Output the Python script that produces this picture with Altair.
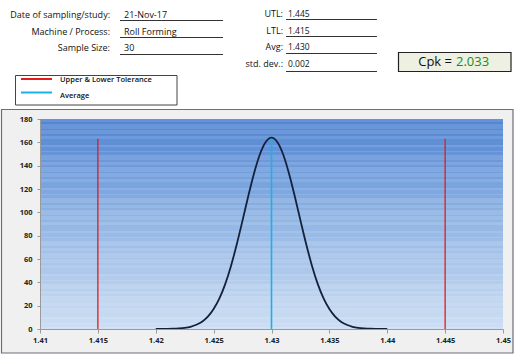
import altair as alt
import pandas as pd

# ---------------- data ----------------
curve_x = [1.4200, 1.4205, 1.4210, 1.4215, 1.4220, 1.4225, 1.4230, 1.4235, 1.4240, 1.4245,
           1.4250, 1.4255, 1.4260, 1.4265, 1.4270, 1.4275, 1.4280, 1.4285, 1.4290, 1.4295,
           1.4300, 1.4305, 1.4310, 1.4315, 1.4320, 1.4325, 1.4330, 1.4335, 1.4340, 1.4345,
           1.4350, 1.4355, 1.4360, 1.4365, 1.4370, 1.4375, 1.4380, 1.4385, 1.4390, 1.4395,
           1.4400]
curve_y = [0.0, 0.1, 0.1, 0.2, 0.5, 1.0, 1.9, 3.6, 6.3, 10.6,
           17.1, 26.2, 38.5, 54.1, 72.6, 93.1, 114.2, 133.8, 149.8, 160.3,
           164.0, 160.3, 149.8, 133.8, 114.2, 93.1, 72.6, 54.1, 38.5, 26.2,
           17.1, 10.6, 6.3, 3.6, 1.9, 1.0, 0.5, 0.2, 0.1, 0.1,
           0.0]
tolerances = [1.415, 1.445]
tolerance_top = [163, 163]
average = [1.430]
average_top = [163]
x_ticks = [1.41, 1.415, 1.42, 1.425, 1.43, 1.435, 1.44, 1.445, 1.45]
y_ticks = [0, 20, 40, 60, 80, 100, 120, 140, 160, 180]

left_labels = ["Date of sampling/study:", "Machine / Process:", "Sample Size:"]
left_values = ["21-Nov-17", "Roll Forming", "30"]
right_labels = ["UTL:", "LTL:", "Avg:", "std. dev.:"]
right_values = ["1.445", "1.415", "1.430", "0.002"]
legend_items = ["Upper & Lower Tolerance", "Average"]
cpk_label = ["Cpk ="]
cpk_value = ["2.033"]

# ---------------- layout / style ----------------
PL, PT, W, H = 40, 119, 463, 210
FONT = "Open Sans"
RED = "#e31b1b"
BLUE = "#19b2e8"


def px(x):
    return x - PL


def py(y):
    return y - PT


one = pd.DataFrame({"k": [0]})

layers = []

# chart frame
layers.append(
    alt.Chart(one).mark_rect(fill="#f0f0f0", stroke="#6b6f78", strokeWidth=1.2).encode(
        x=alt.value(px(1.5)), x2=alt.value(px(513)), y=alt.value(py(109.5)), y2=alt.value(py(353))
    )
)

# plot background: vertical gradient with faint horizontal banding
top_rgb = (84, 135, 212)
mid_rgb = (150, 185, 230)
bot_rgb = (207, 223, 244)


def mix(a, b, t):
    return tuple(int(round(a[i] + (b[i] - a[i]) * t)) for i in range(3))


def col_at(t):
    if t < 0.5:
        return mix(top_rgb, mid_rgb, t / 0.5)
    return mix(mid_rgb, bot_rgb, (t - 0.5) / 0.5)


band_pattern = [3, 2, 5, 1, 4, 2, 3, 6, 2, 4, 1, 3, 5, 2]
stops = []
pos = 0.0
k = 0
while pos < H:
    w = band_pattern[k % len(band_pattern)]
    t0 = pos / H
    t1 = min(pos + w, H) / H
    base = col_at((t0 + t1) / 2)
    light = 0.10 if k % 2 == 0 else -0.02
    c = tuple(max(0, min(255, int(v + (255 - v) * light))) for v in base)
    hexc = "#%02x%02x%02x" % c
    stops.append(alt.GradientStop(offset=t0, color=hexc))
    stops.append(alt.GradientStop(offset=t1, color=hexc))
    pos += w
    k += 1

grad = alt.LinearGradient(gradient="linear", x1=0, x2=0, y1=0, y2=1, stops=stops)
layers.append(
    alt.Chart(one).mark_rect(color=grad).encode(
        x=alt.value(0), x2=alt.value(W), y=alt.value(0), y2=alt.value(H)
    )
)

xscale = alt.Scale(domain=[1.41, 1.45], nice=False, zero=False)
yscale = alt.Scale(domain=[0, 180], nice=False)

xaxis = alt.Axis(values=x_ticks, format=".3~f", title=None, grid=False, labelFont=FONT,
                 labelFontSize=7.5, labelFontWeight="bold", labelColor="#222", domainColor="#9a9a9a",
                 tickColor="#9a9a9a", tickSize=4, labelPadding=3, zindex=1, labelFlush=False,
                 labelOverlap=False)
yaxis = alt.Axis(values=y_ticks, title=None, grid=False, labelFont=FONT,
                 labelFontSize=7.5, labelFontWeight="bold", labelColor="#222", domainColor="#9a9a9a",
                 tickColor="#9a9a9a", tickSize=3, labelPadding=5, zindex=1, labelOverlap=False,
                 labelFlush=False)

tol_df = pd.DataFrame({"x": tolerances, "bottom": [0] * len(tolerances), "top": tolerance_top})
avg_df = pd.DataFrame({"x": average, "bottom": [0] * len(average), "top": average_top})
curve_df = pd.DataFrame({"x": curve_x, "y": curve_y})

layers.append(
    alt.Chart(curve_df).mark_line(color="#14213d", strokeWidth=1.8, interpolate="monotone").encode(
        x=alt.X("x:Q", scale=xscale, axis=xaxis),
        y=alt.Y("y:Q", scale=yscale, axis=yaxis),
    )
)
layers.append(
    alt.Chart(tol_df).mark_rule(color=RED, strokeWidth=1.3).encode(
        x=alt.X("x:Q", scale=xscale, axis=xaxis),
        y=alt.Y("bottom:Q", scale=yscale, axis=yaxis), y2="top:Q"
    )
)
layers.append(
    alt.Chart(avg_df).mark_rule(color=BLUE, strokeWidth=1.6).encode(
        x=alt.X("x:Q", scale=xscale, axis=xaxis),
        y=alt.Y("bottom:Q", scale=yscale, axis=yaxis), y2="top:Q"
    )
)


def text_layer(t, x, y, align="left", size=9, color="#111", weight="normal"):
    return alt.Chart(pd.DataFrame({"t": [t]})).mark_text(
        align=align, baseline="middle", font=FONT, fontSize=size, color=color, fontWeight=weight
    ).encode(text="t:N", x=alt.value(px(x)), y=alt.value(py(y)))


def hline(x1, x2, y, color="#333", w=1):
    return alt.Chart(one).mark_rule(color=color, strokeWidth=w).encode(
        x=alt.value(px(x1)), x2=alt.value(px(x2)), y=alt.value(py(y))
    )


# left form
left_y = [15, 32, 48]
left_line_y = [20.5, 37.5, 54.5]
for lab, val, yy, ly in zip(left_labels, left_values, left_y, left_line_y):
    layers.append(text_layer(lab, 110, yy, align="right"))
    layers.append(text_layer(val, 124, yy))
    layers.append(hline(120, 223, ly))

# right form
right_y = [14, 31, 47, 64]
right_line_y = [19.5, 36.5, 53.5, 71.5]
for lab, val, yy, ly in zip(right_labels, right_values, right_y, right_line_y):
    layers.append(text_layer(lab, 283, yy, align="right"))
    layers.append(text_layer(val, 288, yy, size=8.5))
    layers.append(hline(286, 377, ly))

# legend box
layers.append(
    alt.Chart(one).mark_rect(fill="white", stroke="#444", strokeWidth=1).encode(
        x=alt.value(px(15.5)), x2=alt.value(px(177)), y=alt.value(py(75.5)), y2=alt.value(py(105))
    )
)
layers.append(hline(21, 52, 79, color=RED, w=2))
layers.append(hline(21, 52, 92.5, color=BLUE, w=2))
layers.append(text_layer(legend_items[0], 60, 80, size=7.5, weight=600))
layers.append(text_layer(legend_items[1], 60, 96, size=7.5, weight=600))

# Cpk box
layers.append(
    alt.Chart(one).mark_rect(fill="#eef0e2", stroke="#222", strokeWidth=1.2).encode(
        x=alt.value(px(398.5)), x2=alt.value(px(511)), y=alt.value(py(52.5)), y2=alt.value(py(71.5))
    )
)
layers.append(text_layer(cpk_label[0], 452, 62, align="right", size=13))
layers.append(text_layer(cpk_value[0], 456, 62, size=13, color="#1a8c1a"))

chart = alt.layer(*layers).properties(
    width=W, height=H,
    autosize=alt.AutoSizeParams(type="none"),
    padding={"left": PL, "top": PT, "right": 517 - PL - W, "bottom": 355 - PT - H},
    background="white",
).configure_view(stroke=None).configure_axis(labelOverlap=False)

chart.save("out.html", embed_options={"renderer": "svg", "actions": False})
